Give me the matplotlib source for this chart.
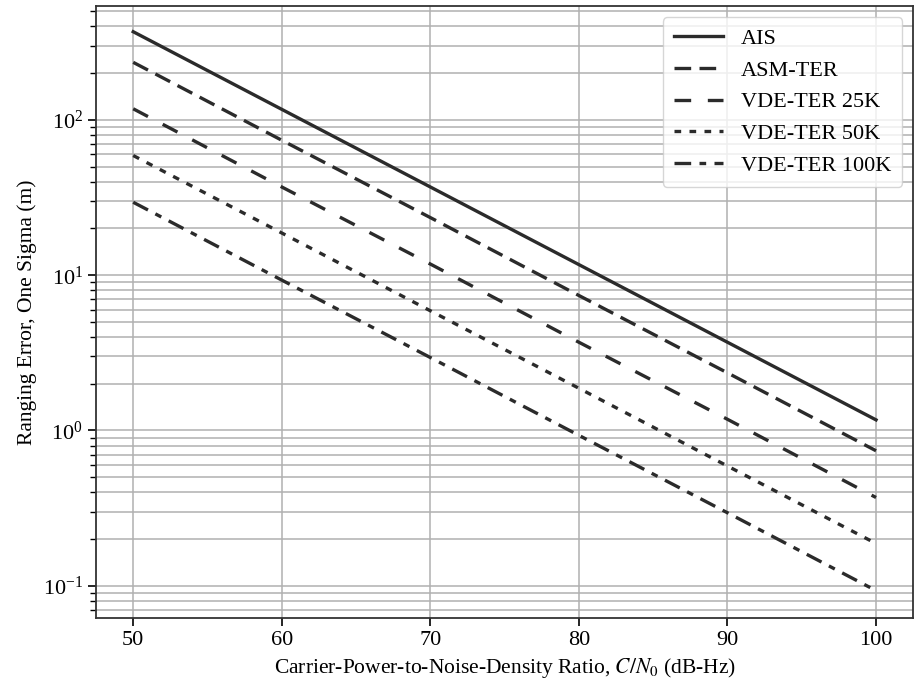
import matplotlib
matplotlib.use("Agg")
import matplotlib.pyplot as plt

# values at 10 dB steps
cn0 = [50, 60, 70, 80, 90, 100]
ais = [370, 117, 37, 11.7, 3.7, 1.17]
asm_ter = [235, 74, 23.5, 7.4, 2.35, 0.74]
vde_25k = [118, 37, 11.8, 3.7, 1.18, 0.37]
vde_50k = [59, 18.7, 5.9, 1.87, 0.59, 0.187]
vde_100k = [29.5, 9.3, 2.95, 0.93, 0.295, 0.093]

labels = ["AIS", "ASM-TER", "VDE-TER 25K", "VDE-TER 50K", "VDE-TER 100K"]
series = [ais, asm_ter, vde_25k, vde_50k, vde_100k]
styles = ["-", (0, (5, 2.5)), (0, (5, 5)), (0, (2, 2.5)), (0, (5, 2.5, 2, 2.5))]

plt.rcParams["font.family"] = ["Liberation Serif", "DejaVu Serif"]
plt.rcParams["mathtext.fontset"] = "stix"

fig = plt.figure(figsize=(9.15, 6.92), dpi=100)
ax = fig.add_axes([0.105, 0.107, 0.893, 0.884])

for vals, lab, ls in zip(series, labels, styles):
    ax.plot(cn0, vals, color="#2b2b2b", lw=2.4, ls=ls, label=lab)

ax.set_yscale("log")
ax.set_xlim(47.5, 102.5)
ax.set_ylim(0.062, 540)
ax.set_xticks([50, 60, 70, 80, 90, 100])
ax.grid(True, which="major", color="#b0b0b0", lw=1.1)
ax.grid(True, which="minor", axis="y", color="#b0b0b0", lw=1.1)
ax.tick_params(labelsize=16, length=6, width=1.2)
ax.tick_params(which="minor", length=4, width=1.0)
for s in ax.spines.values():
    s.set_color("#333333")
    s.set_linewidth(1.3)

ax.set_xlabel(r"Carrier-Power-to-Noise-Density Ratio, $C/N_0$ (dB-Hz)", fontsize=15.5)
ax.set_ylabel("Ranging Error, One Sigma (m)", fontsize=15.5)

leg = ax.legend(loc="upper right", fontsize=16, handlelength=2.2,
                fancybox=True, framealpha=0.8, borderpad=0.5)
leg.get_frame().set_edgecolor("#cccccc")

fig.savefig("out.png", dpi=100)
